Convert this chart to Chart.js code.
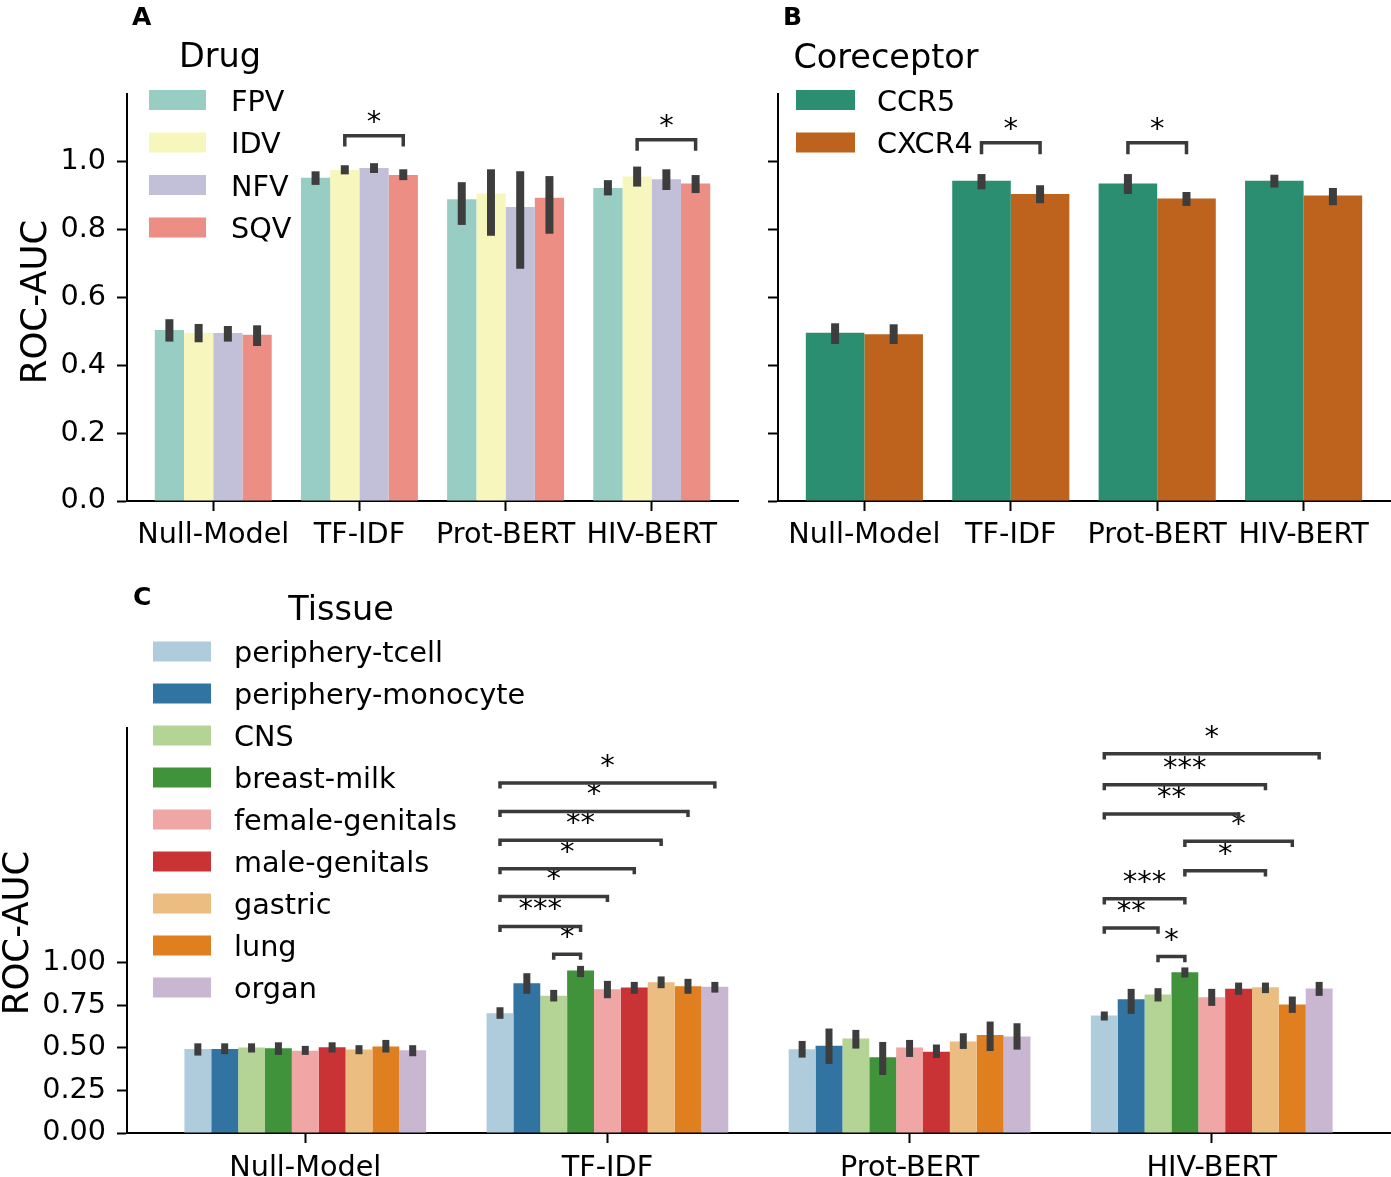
<!DOCTYPE html>
<html>
<head>
<meta charset="utf-8">
<script src="https://cdn.jsdelivr.net/npm/chart.js@4.4.1/dist/chart.umd.min.js"></script>
<style>
html, body { margin: 0; padding: 0; background: #fff; }
#wrap { position: relative; width: 1391px; height: 1177px; }
#wrap canvas { position: absolute; left: 0; top: 0; }
</style>
</head>
<body>
<div id="wrap">
<canvas id="drug" width="1391" height="1177"></canvas>
<canvas id="coreceptor" width="1391" height="1177"></canvas>
<canvas id="tissue" width="1391" height="1177"></canvas>
</div>
<script>
// categorias do eixo x (iguais nos tres paineis)
const methods = ['Null-Model', 'TF-IDF', 'Prot-BERT', 'HIV-BERT'];

// painel A - resistencia a drogas
const drugNames = ['FPV', 'IDV', 'NFV', 'SQV'];
const drugAuc  = [[0.504, 0.953, 0.890, 0.923], [0.495, 0.976, 0.907, 0.957], [0.495, 0.982, 0.867, 0.949], [0.490, 0.961, 0.894, 0.936]];
const drugLow  = [[0.470, 0.932, 0.814, 0.901], [0.468, 0.963, 0.782, 0.927], [0.470, 0.967, 0.685, 0.917], [0.457, 0.946, 0.788, 0.908]];
const drugHigh = [[0.536, 0.972, 0.940, 0.946], [0.522, 0.990, 0.978, 0.986], [0.516, 0.996, 0.972, 0.978], [0.518, 0.978, 0.958, 0.961]];
// [grupo, serie1, serie2, altura do colchete, marca]
const drugTests = [[1, 1, 3, 1.077, '*'], [3, 1, 3, 1.065, '*']];

// painel B - correceptor
const corecNames = ['CCR5', 'CXCR4'];
const corecAuc  = [[0.496, 0.944, 0.936, 0.944], [0.492, 0.905, 0.892, 0.901]];
const corecLow  = [[0.463, 0.919, 0.905, 0.924], [0.463, 0.878, 0.870, 0.872]];
const corecHigh = [[0.524, 0.964, 0.964, 0.962], [0.521, 0.931, 0.911, 0.923]];
const corecTests = [[1, 0, 1, 1.056, '*'], [2, 0, 1, 1.056, '*']];

// painel C - tecido
const tissueNames = ['periphery-tcell', 'periphery-monocyte', 'CNS', 'breast-milk', 'female-genitals', 'male-genitals', 'gastric', 'lung', 'organ'];
const tissueAuc = [
  [0.494, 0.704, 0.492, 0.690], [0.494, 0.880, 0.512, 0.786], [0.502, 0.806, 0.555, 0.814],
  [0.498, 0.955, 0.445, 0.945], [0.484, 0.845, 0.502, 0.798], [0.504, 0.855, 0.478, 0.847],
  [0.490, 0.886, 0.537, 0.857], [0.508, 0.863, 0.576, 0.755], [0.486, 0.859, 0.567, 0.849]];
const tissueLow = [
  [0.455, 0.671, 0.443, 0.661], [0.463, 0.818, 0.406, 0.700], [0.473, 0.773, 0.496, 0.773],
  [0.459, 0.916, 0.341, 0.914], [0.459, 0.792, 0.447, 0.747], [0.473, 0.818, 0.441, 0.812],
  [0.463, 0.851, 0.494, 0.822], [0.473, 0.818, 0.482, 0.706], [0.451, 0.825, 0.490, 0.806]];
const tissueHigh = [
  [0.527, 0.739, 0.541, 0.714], [0.527, 0.939, 0.614, 0.847], [0.527, 0.841, 0.606, 0.851],
  [0.533, 0.982, 0.535, 0.973], [0.512, 0.894, 0.547, 0.847], [0.533, 0.888, 0.520, 0.884],
  [0.516, 0.920, 0.586, 0.884], [0.547, 0.906, 0.655, 0.802], [0.516, 0.888, 0.645, 0.888]];
const tissueTests = [
  [1, 2, 3, 1.051, '*'], [1, 0, 3, 1.214, '***'], [1, 0, 4, 1.390, '*'], [1, 0, 5, 1.553, '*'],
  [1, 0, 6, 1.720, '**'], [1, 0, 7, 1.890, '*'], [1, 0, 8, 2.057, '*'],
  [3, 2, 3, 1.037, '*'], [3, 0, 2, 1.204, '**'], [3, 0, 3, 1.376, '***'], [3, 3, 6, 1.541, '*'],
  [3, 3, 7, 1.714, '*'], [3, 0, 5, 1.875, '**'], [3, 0, 6, 2.047, '***'], [3, 0, 8, 2.228, '*']];

const FONT = 'DejaVu Sans';
const ERR = '#3d3d3d';
const W = 1391, H = 1177;
const TXT = 28.7;

// desenha barras de erro, colchetes de significancia, legenda e textos
function decorations(p) {
  return {
    id: 'decorations',
    afterDatasetsDraw(chart) {
      const ctx = chart.ctx, y = chart.scales.y;
      ctx.save();
      ctx.strokeStyle = ERR;
      ctx.lineWidth = p.errWidth;
      ctx.lineCap = 'butt';
      p.low.forEach((row, s) => {
        const meta = chart.getDatasetMeta(s);
        row.forEach((lo, g) => {
          const x = meta.data[g].x;
          ctx.beginPath();
          ctx.moveTo(x, y.getPixelForValue(lo));
          ctx.lineTo(x, y.getPixelForValue(p.high[s][g]));
          ctx.stroke();
        });
      });
      ctx.strokeStyle = '#3a3a3a';
      ctx.lineWidth = 3.5;
      ctx.lineJoin = 'miter';
      ctx.fillStyle = '#000';
      ctx.font = '29px "' + FONT + '"';
      ctx.textAlign = 'center';
      ctx.textBaseline = 'alphabetic';
      p.tests.forEach(([g, a, b, top, mark]) => {
        const x1 = chart.getDatasetMeta(a).data[g].x;
        const x2 = chart.getDatasetMeta(b).data[g].x;
        const yt = y.getPixelForValue(top), yb = y.getPixelForValue(top - p.legDrop);
        ctx.beginPath();
        ctx.moveTo(x1, yb); ctx.lineTo(x1, yt); ctx.lineTo(x2, yt); ctx.lineTo(x2, yb);
        ctx.stroke();
        ctx.fillText(mark, (x1 + x2) / 2, yt - p.starGap);
      });
      ctx.restore();
    },
    afterDraw(chart) {
      const ctx = chart.ctx, L = p.legend;
      ctx.save();
      ctx.fillStyle = '#000';
      ctx.textBaseline = 'alphabetic';
      // titulo da legenda
      ctx.font = '33.5px "' + FONT + '"';
      ctx.textAlign = 'center';
      ctx.fillText(L.title, L.titleX, L.titleY);
      // itens da legenda
      ctx.font = TXT + 'px "' + FONT + '"';
      ctx.textAlign = 'left';
      chart.data.datasets.forEach((ds, i) => {
        const cy = L.y0 + i * L.step;
        ctx.fillStyle = ds.backgroundColor;
        ctx.fillRect(L.boxX, cy - 10, L.boxW, 20);
        ctx.fillStyle = '#000';
        ctx.fillText(ds.label, L.textX, cy + 10.5);
      });
      // letra do painel
      ctx.font = 'bold 25px "' + FONT + '"';
      ctx.fillText(p.letter[0], p.letter[1], p.letter[2]);
      // titulo do eixo y
      if (p.ylabel) {
        ctx.font = '35.5px "' + FONT + '"';
        ctx.textAlign = 'center';
        ctx.translate(p.ylabel[0], p.ylabel[1]);
        ctx.rotate(-Math.PI / 2);
        ctx.fillText('ROC-AUC', 0, 0);
      }
      ctx.restore();
    }
  };
}

function makePanel(id, p) {
  const datasets = p.names.map((name, s) => ({
    label: name,
    data: p.auc[s].map((v, g) => ({ x: g, y: v })),
    backgroundColor: p.colors[s],
    borderWidth: 0
  }));
  const tickFont = { family: FONT, size: TXT };
  return new Chart(document.getElementById(id), {
    type: 'bar',
    data: { datasets },
    options: {
      responsive: false,
      animation: false,
      layout: { padding: { left: 0, top: p.area.top, right: W - p.area.right, bottom: 0 } },
      datasets: { bar: { categoryPercentage: 0.8, barPercentage: 1.0 } },
      plugins: { legend: { display: false }, tooltip: { enabled: false } },
      scales: {
        x: {
          type: 'linear',
          min: -0.59, max: 3.59,
          offset: false,
          afterFit: s => { s.height = H - p.area.bottom; },
          afterBuildTicks: s => { s.ticks = methods.map((_, i) => ({ value: i })); },
          grid: { offset: false, drawOnChartArea: false, drawTicks: true, tickLength: 10, tickWidth: 2, tickColor: '#000' },
          border: { display: true, color: '#000', width: 2 },
          ticks: {
            autoSkip: false, maxRotation: 0, minRotation: 0, padding: p.xPad,
            color: '#000', font: tickFont,
            callback: v => methods[v]
          }
        },
        y: {
          min: 0, max: p.yMax,
          afterFit: s => { s.width = p.area.left; },
          afterBuildTicks: s => { s.ticks = p.yTicks.map(v => ({ value: v })); },
          grid: { drawOnChartArea: false, drawTicks: true, tickLength: 10, tickWidth: 2, tickColor: '#000' },
          border: { display: true, color: '#000', width: 2 },
          ticks: {
            display: p.showY, padding: 11, color: '#000', font: tickFont,
            callback: v => v.toFixed(p.decimals)
          }
        }
      }
    },
    plugins: [decorations(p)]
  });
}

makePanel('drug', {
  names: drugNames, auc: drugAuc, low: drugLow, high: drugHigh, tests: drugTests,
  colors: ['#98cdc3', '#f7f7bd', '#c2bfd8', '#ec8e83'],
  area: { left: 127, right: 738, top: 94, bottom: 501 },
  yMax: 1.2, yTicks: [0, 0.2, 0.4, 0.6, 0.8, 1.0], decimals: 1, showY: true, xPad: 7,
  errWidth: 8, legDrop: 0.032, starGap: 5,
  legend: { title: 'Drug', titleX: 220, titleY: 67, boxX: 149, boxW: 57, y0: 100, step: 42.5, textX: 231 },
  letter: ['A', 132, 25], ylabel: [46, 302]
});

makePanel('coreceptor', {
  names: corecNames, auc: corecAuc, low: corecLow, high: corecHigh, tests: corecTests,
  colors: ['#2b8e70', '#be631d'],
  area: { left: 778, right: 1390, top: 94, bottom: 501 },
  yMax: 1.2, yTicks: [0, 0.2, 0.4, 0.6, 0.8, 1.0], decimals: 1, showY: false, xPad: 7,
  errWidth: 8, legDrop: 0.034, starGap: 5,
  legend: { title: 'Coreceptor', titleX: 886, titleY: 68, boxX: 796, boxW: 59, y0: 100, step: 42.5, textX: 877 },
  letter: ['B', 783, 25], ylabel: null
});

makePanel('tissue', {
  names: tissueNames, auc: tissueAuc, low: tissueLow, high: tissueHigh, tests: tissueTests,
  colors: ['#aeccdc', '#3274a1', '#b3d495', '#40923b', '#efa6a5', '#ca3335', '#ebbd81', '#df7f20', '#c9b7d2'],
  area: { left: 127, right: 1390, top: 728, bottom: 1133 },
  yMax: 2.38, yTicks: [0, 0.25, 0.5, 0.75, 1.0], decimals: 2, showY: true, xPad: 8,
  errWidth: 7, legDrop: 0.033, starGap: 8,
  legend: { title: 'Tissue', titleX: 341, titleY: 620, boxX: 153, boxW: 58, y0: 651.5, step: 42, textX: 234 },
  letter: ['C', 133, 605], ylabel: [28, 933]
});
</script>
</body>
</html>
